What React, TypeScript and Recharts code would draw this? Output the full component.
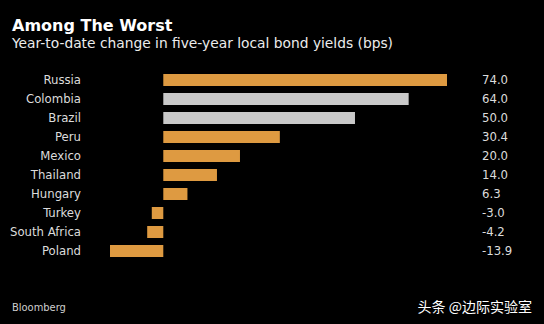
import { BarChart, Bar, XAxis, YAxis, Cell } from "recharts";

const categories = [
  "Russia",
  "Colombia",
  "Brazil",
  "Peru",
  "Mexico",
  "Thailand",
  "Hungary",
  "Turkey",
  "South Africa",
  "Poland",
];
const values = [74.0, 64.0, 50.0, 30.4, 20.0, 14.0, 6.3, -3.0, -4.2, -13.9];
const grayed = ["Colombia", "Brazil"];

const ORANGE = "#de9a41";
const GRAY = "#c9c9c9";
const TEXT = "#dcdcdc";
const FONT = "'DejaVu Sans', sans-serif";
const COND = "'DejaVu Sans Condensed', 'DejaVu Sans', sans-serif";

const data = categories.map((name, i) => ({
  name,
  value: values[i],
  label: values[i].toFixed(1),
}));

export default function App() {
  return (
    <div
      style={{
        position: "fixed",
        top: 0,
        left: 0,
        width: 544,
        height: 324,
        background: "#000",
        fontFamily: FONT,
        overflow: "hidden",
      }}
    >
      <div
        style={{
          position: "absolute",
          left: 12,
          top: 16,
          color: "#fff",
          fontWeight: 700,
          fontSize: 16,
          lineHeight: "20px",
        }}
      >
        Among The Worst
      </div>
      <div
        style={{
          position: "absolute",
          left: 12,
          top: 34,
          color: "#ececec",
          fontSize: 13.8,
          lineHeight: "18px",
        }}
      >
        Year-to-date change in five-year local bond yields (bps)
      </div>
      <BarChart
        layout="vertical"
        width={544}
        height={324}
        data={data}
        margin={{ top: 70, right: 0, bottom: 64, left: 0 }}
      >
        <XAxis type="number" domain={[-13.9, 74]} hide />
        <YAxis
          yAxisId="left"
          type="category"
          dataKey="name"
          width={110}
          interval={0}
          axisLine={false}
          tickLine={false}
          tickMargin={23}
          tick={{ fill: TEXT, fontSize: 13, fontFamily: COND }}
        />
        <YAxis
          yAxisId="right"
          orientation="right"
          type="category"
          dataKey="label"
          width={97}
          interval={0}
          axisLine={false}
          tickLine={false}
          tickMargin={29}
          tick={{ fill: TEXT, fontSize: 13, fontFamily: COND, textAnchor: "start" }}
        />
        <Bar yAxisId="left" dataKey="value" barSize={12} isAnimationActive={false}>
          {data.map((d) => (
            <Cell key={d.name} fill={grayed.includes(d.name) ? GRAY : ORANGE} />
          ))}
        </Bar>
      </BarChart>
      <div
        style={{
          position: "absolute",
          left: 12,
          top: 301,
          color: "#cfcfcf",
          fontSize: 11,
          lineHeight: "14px",
          fontFamily: COND,
        }}
      >
        Bloomberg
      </div>
      <div
        style={{
          position: "absolute",
          right: 12,
          top: 297,
          color: "#fff",
          fontSize: 14,
          lineHeight: "18px",
          fontFamily: "'Noto Sans CJK SC', sans-serif",
        }}
      >
        头条 @边际实验室
      </div>
    </div>
  );
}
